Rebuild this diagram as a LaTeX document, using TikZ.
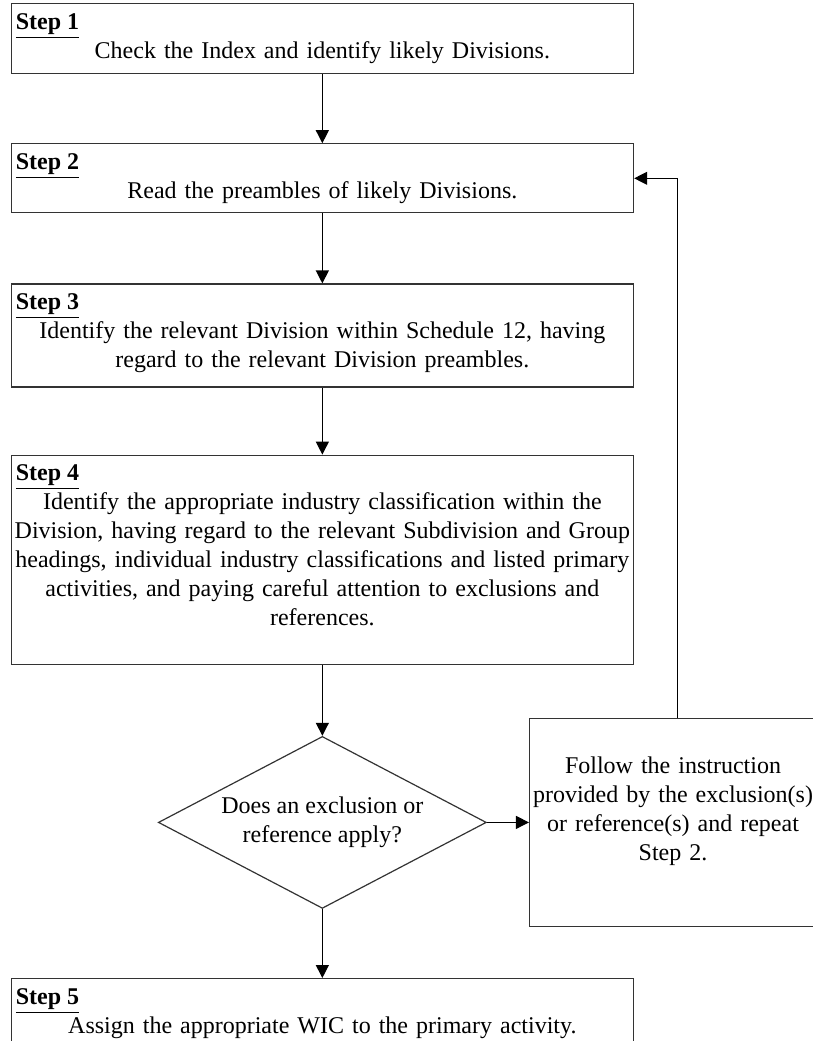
\documentclass[tikz,border=0pt]{standalone}
\usepackage{fontspec}
\setmainfont{Liberation Serif}
\usepackage{tikz}
\usetikzlibrary{shapes.geometric, arrows.meta, positioning}
\tikzstyle{arrow} = [line width=0.6pt, -{Triangle[length=6.5pt, width=6.5pt]}]

\begin{document}
\begin{tikzpicture}[
    stepbox/.style={rectangle, draw=black!80, line width=0.6pt, minimum width=311.25pt, inner sep=0pt},
    stephead/.style={anchor=base west, inner sep=0pt, font=\fontsize{12pt}{14.5pt}\selectfont\bfseries},
    steptext/.style={anchor=base, inner sep=0pt, text width=320pt, align=center, font=\fontsize{12pt}{14.5pt}\selectfont},
    decision/.style={diamond, draw=black!80, line width=0.6pt, aspect=1.9, minimum width=164pt, minimum height=86pt, inner sep=0pt, align=center, font=\fontsize{12pt}{14.5pt}\selectfont},
    notebox/.style={rectangle, draw=black!80, line width=0.6pt, minimum width=143.5pt, minimum height=104pt, inner sep=0pt}
  ]
    \useasboundingbox (0,0) rectangle (406.5pt,-520.5pt);
    \clip (0,0) rectangle (406.5pt,-520.5pt);

    % Boxes
    \node[stepbox, minimum height=35pt, anchor=north west] (s1) at (5.25pt,-1.5pt) {};
    \node[stepbox, minimum height=34.5pt, below=34.5pt of s1] (s2) {};
    \node[stepbox, minimum height=51.5pt, below=35pt of s2] (s3) {};
    \node[stepbox, minimum height=104.5pt, below=33.5pt of s3] (s4) {};
    \node[decision, below=35.5pt of s4] (dec) {Does an exclusion or\\reference apply?};
    \node[notebox, right=21pt of dec] (note) {};
    \node[stepbox, minimum height=40pt, below=34.5pt of dec] (s5) {};

    % Headings
    \node[stephead] (h1) at ([shift={(2.5pt,-13pt)}]s1.north west) {\underline{Step 1}};
    \node[stephead] (h2) at ([shift={(2.5pt,-13pt)}]s2.north west) {\underline{Step 2}};
    \node[stephead] (h3) at ([shift={(2.5pt,-13pt)}]s3.north west) {\underline{Step 3}};
    \node[stephead] (h4) at ([shift={(2.5pt,-13pt)}]s4.north west) {\underline{Step 4}};
    \node[stephead] (h5) at ([shift={(2.5pt,-13pt)}]s5.north west) {\underline{Step 5}};

    % Texts
    \node[steptext] (t1) at ([yshift=-27.5pt]s1.north) {Check the Index and identify likely Divisions.};
    \node[steptext] (t2) at ([yshift=-27.5pt]s2.north) {Read the preambles of likely Divisions.};
    \node[steptext] (t3) at ([yshift=-27.5pt]s3.north) {Identify the relevant Division within Schedule 12, having\\regard to the relevant Division preambles.};
    \node[steptext] (t4) at ([yshift=-27.5pt]s4.north) {Identify the appropriate industry classification within the\\Division, having regard to the relevant Subdivision and Group\\headings, individual industry classifications and listed primary\\activities, and paying careful attention to exclusions and\\references.};
    \node[steptext] (t5) at ([yshift=-27.5pt]s5.north) {Assign the appropriate WIC to the primary activity.};
    \node[steptext, text width=150pt] (t6) at ([yshift=-28pt]note.north) {Follow the instruction\\provided by the exclusion(s)\\or reference(s) and repeat\\Step 2.};

    % Arrows
    \draw[arrow] (s1) -- (s2);
    \draw[arrow] (s2) -- (s3);
    \draw[arrow] (s3) -- (s4);
    \draw[arrow] (s4) -- (dec);
    \draw[arrow] (dec) -- (s5);
    \draw[arrow] (dec) -- (note);
    \draw[arrow] ([xshift=2.25pt]note.north) |- (s2.east);
\end{tikzpicture}
\end{document}
